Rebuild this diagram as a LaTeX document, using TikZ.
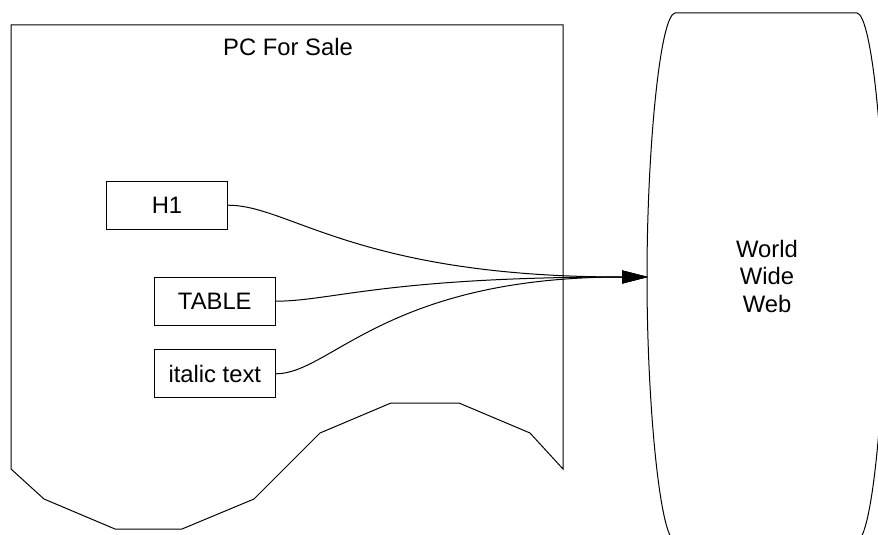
\documentclass[tikz,border=0pt]{standalone}
\usepackage{fontspec}
\setmainfont{Liberation Sans}
\usetikzlibrary{arrows.meta}

\tikzset{
  outline/.style={draw=black, line width=1pt, line join=miter},
  tagbox/.style={outline, fill=white, inner sep=0pt, minimum width=121pt, minimum height=48pt},
  label/.style={inner sep=0pt, font=\fontsize{23.8}{27.5}\selectfont},
  link/.style={draw=black, line width=1pt, -{Triangle[length=26pt, width=13pt]}},
}

\begin{document}
\begin{tikzpicture}[x=1pt, y=-1pt, every node/.style={label}]
  \useasboundingbox (0,0) rectangle (878,535);
  \clip (0,0) rectangle (878,535);

  % page with a torn lower edge
  \draw[outline] (11,25) -- (563,25) -- (563,469) -- (530,433) -- (459,403)
    -- (391,403) -- (320,433) -- (254,499) -- (182,529) -- (115,529)
    -- (44,499) -- (11,469) -- cycle;
  \node[anchor=base] (title) at (288,56) {PC For Sale};

  % the web: a tall rounded drum, running off the right and bottom
  \draw[outline] (675,13) -- (857,13)
    .. controls (872,15) and (885,150) .. (885,277)
    .. controls (885,404) and (872,539) .. (857,541)
    -- (675,541)
    .. controls (660,539) and (647,404) .. (647,277)
    .. controls (647,150) and (660,15) .. (675,13) -- cycle;
  \node[align=center] (www) at (767,276) {World\\Wide\\Web};
  \coordinate (port) at (648,277);

  % page elements
  \node[tagbox] (h1) at (167,205.2) {H1};
  \node[tagbox] (table) at (214.8,301.2) {TABLE};
  \node[tagbox] (italic) at (214.8,373.8) {italic text};

  % links out to the web
  \draw[link] (h1.east) .. controls +(62,0) and +(-291,0) .. (port);
  \draw[link] (table.east) .. controls +(55,0) and +(-262,0) .. (port);
  \draw[link] (italic.east) .. controls +(55,0) and +(-262,0) .. (port);
\end{tikzpicture}
\end{document}
